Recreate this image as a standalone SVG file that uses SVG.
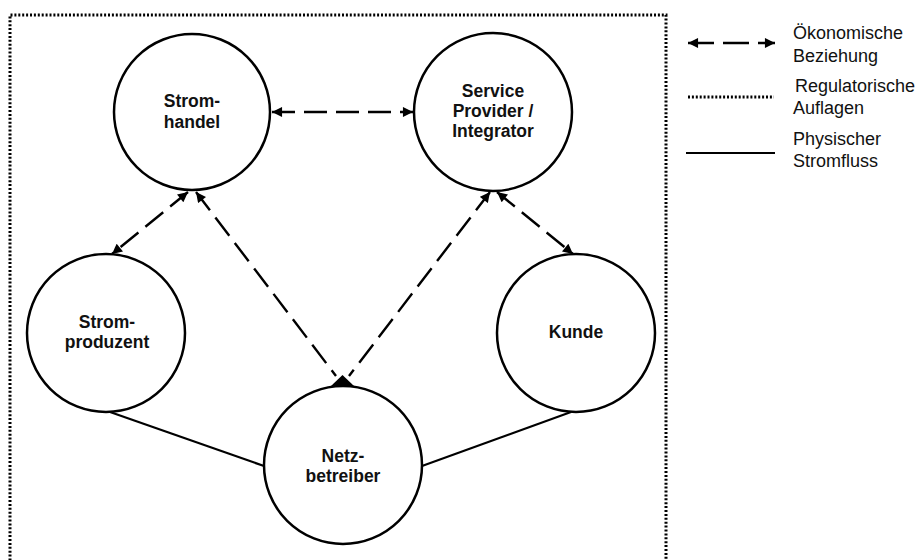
<svg xmlns="http://www.w3.org/2000/svg" width="922" height="560" viewBox="0 0 922 560">
  <style>
    .node circle { fill: #fff; stroke: #000; stroke-width: 2.5; }
    .node text { font-family: "Liberation Sans", Arial, sans-serif; font-weight: bold; font-size: 17.5px; text-anchor: middle; fill: #111; }
    .legend text { font-family: "Liberation Sans", Arial, sans-serif; font-size: 18px; fill: #111; }
    .econ { fill: none; stroke: #000; stroke-width: 2.4; stroke-dasharray: 23 9; }
    .phys { fill: none; stroke: #000; stroke-width: 2.2; }
    .reg { fill: none; stroke: #000; stroke-width: 3; stroke-dasharray: 2 1.9; }
  </style>
  <defs>
    <marker id="arrow" viewBox="0 0 10 10" refX="10" refY="5" markerWidth="4.6" markerHeight="4.2" orient="auto-start-reverse" markerUnits="strokeWidth">
      <path d="M0,0 L10,5 L0,10 z" fill="#000"/>
    </marker>
  </defs>

  <rect width="922" height="560" fill="#fff"/>

  <!-- regulatory frame (open at the bottom edge) -->
  <path class="reg" d="M10,580 L10,15 L666,15 L666,580"/>

  <!-- connectors -->
  <g id="connectors">
    <line class="econ" x1="272" y1="112" x2="413" y2="112" marker-start="url(#arrow)" marker-end="url(#arrow)"/>
    <line class="econ" x1="188" y1="192" x2="112" y2="254" marker-start="url(#arrow)" marker-end="url(#arrow)"/>
    <line class="econ" x1="196" y1="192" x2="336" y2="376" marker-start="url(#arrow)"/>
    <line class="econ" x1="490" y1="192" x2="349" y2="376" marker-start="url(#arrow)"/>
    <polygon points="342.5,375 331,386 354,386" fill="#000"/>
    <line class="econ" x1="497" y1="192" x2="573" y2="254" marker-start="url(#arrow)" marker-end="url(#arrow)"/>
    <line class="phys" x1="110" y1="412" x2="264" y2="466"/>
    <line class="phys" x1="422" y1="466" x2="571" y2="412"/>
  </g>

  <g id="stromhandel" class="node">
    <circle cx="192" cy="112" r="78"/>
    <text x="192" y="107">Strom-</text>
    <text x="192" y="128">handel</text>
  </g>

  <g id="service-provider" class="node">
    <circle cx="493" cy="112" r="79"/>
    <text x="493" y="97">Service</text>
    <text x="493" y="117">Provider /</text>
    <text x="493" y="137">Integrator</text>
  </g>

  <g id="stromproduzent" class="node">
    <circle cx="106" cy="333" r="79"/>
    <text x="107" y="328">Strom-</text>
    <text x="107" y="348">produzent</text>
  </g>

  <g id="kunde" class="node">
    <circle cx="576" cy="333" r="79"/>
    <text x="576" y="338">Kunde</text>
  </g>

  <g id="netzbetreiber" class="node">
    <circle cx="343" cy="465" r="79"/>
    <text x="343" y="462">Netz-</text>
    <text x="343" y="482">betreiber</text>
  </g>

  <!-- legend -->
  <g id="legend" class="legend">
    <line x1="688" y1="43" x2="775" y2="43" stroke="#000" stroke-width="2.4" stroke-dasharray="26 9" marker-start="url(#arrow)" marker-end="url(#arrow)"/>
    <text x="793" y="39">Ökonomische</text>
    <text x="793" y="62">Beziehung</text>
    <line class="reg" x1="688" y1="97" x2="774" y2="97"/>
    <text x="795" y="92">Regulatorische</text>
    <text x="793" y="114">Auflagen</text>
    <line class="phys" x1="686" y1="153" x2="775" y2="153"/>
    <text x="793" y="145">Physischer</text>
    <text x="793" y="167">Stromfluss</text>
  </g>
</svg>
